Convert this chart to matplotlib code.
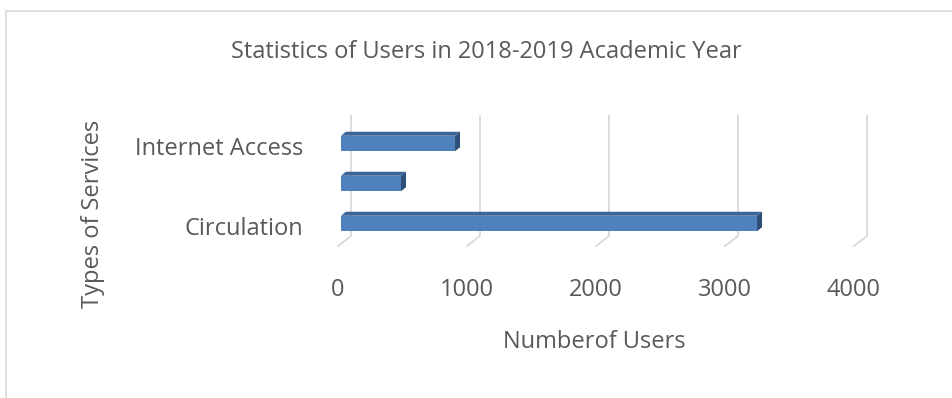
import matplotlib
matplotlib.use("Agg")
import matplotlib.pyplot as plt
from matplotlib.patches import Polygon
from matplotlib.lines import Line2D

plt.rcParams.update({
    "font.family": ["Open Sans", "DejaVu Sans"],
    "font.size": 17,
    "text.color": "#595959",
})

CATEGORIES = ["Circulation", "", "Internet Access"]
USERS = [3225, 465, 884]
XTICKS = [0, 1000, 2000, 3000, 4000]

TITLE = "Statistics of Users in 2018-2019 Academic Year"
XLABEL = "Numberof Users"
YLABEL = "Types of Services"

FRONT = "#4F81BD"
TOP = "#3B6499"
SIDE = "#2C4E78"
GRID = "#D9D9D9"
TEXT = "#595959"
FS = 17

W, H = 952, 398
# front plane of the plot area, in pixels (image coords, y down)
X0, X1 = 338, 854
Y_TOP, Y_BOT = 126, 246


def main():
    fig = plt.figure(figsize=(W / 100, H / 100), dpi=100)
    ax = fig.add_axes([X0 / W, 1 - Y_BOT / H, (X1 - X0) / W, (Y_BOT - Y_TOP) / H])
    ax.set_xlim(0, 4000)
    ax.set_ylim(-0.5, 2.5)
    for s in ax.spines.values():
        s.set_visible(False)

    # pixel -> data unit conversions
    px_x = 4000 / (X1 - X0)
    px_y = 3 / (Y_BOT - Y_TOP)

    # back wall gridlines + floor diagonals
    bx, by = 13 * px_x, 10 * px_y
    for v in XTICKS:
        ax.add_line(Line2D([v, v + bx, v + bx], [-0.5, -0.5 + by, 2.5 + by],
                           color=GRID, lw=1.3, clip_on=False, zorder=1))

    # 3D-ish bars
    fx, fy = 3 * px_x, 2.5 * px_y      # front face offset from front plane
    dx, dy = 5 * px_x, 4 * px_y        # bar depth
    hh = 7.75 * px_y                   # half height of front face
    for i, v in enumerate(USERS):
        x0, x1 = fx, v + fx
        yb, yt = i - hh + fy, i + hh + fy
        ax.add_patch(Polygon([(x0, yt), (x1, yt), (x1 + dx, yt + dy), (x0 + dx, yt + dy)],
                             closed=True, facecolor=TOP, edgecolor="none", zorder=3))
        ax.add_patch(Polygon([(x1, yb), (x1 + dx, yb + dy), (x1 + dx, yt + dy), (x1, yt)],
                             closed=True, facecolor=SIDE, edgecolor="none", zorder=3))
        ax.add_patch(Polygon([(x0, yb), (x1, yb), (x1, yt), (x0, yt)],
                             closed=True, facecolor=FRONT, edgecolor="none", zorder=4))

    ax.set_xticks(XTICKS)
    ax.set_xticklabels([str(t) for t in XTICKS])
    ax.set_yticks(range(len(CATEGORIES)))
    ax.set_yticklabels(CATEGORIES)
    ax.tick_params(axis="x", length=0, pad=23, labelcolor=TEXT, labelsize=FS)
    ax.tick_params(axis="y", length=0, pad=25, labelcolor=TEXT, labelsize=FS)

    fig.text(486 / W, 1 - 52 / H, TITLE, ha="center", va="center", fontsize=FS, color=TEXT)
    fig.text(594 / W, 1 - 342 / H, XLABEL, ha="center", va="center", fontsize=FS, color=TEXT)
    fig.text(93 / W, 1 - 214 / H, YLABEL, ha="center", va="center", rotation=90,
             fontsize=FS, color=TEXT)

    # chart area border (cropped on right/bottom)
    fig.add_artist(Line2D([6 / W, 6 / W, 1], [0, 1 - 11 / H, 1 - 11 / H],
                          transform=fig.transFigure, color=GRID, lw=1.2))

    fig.savefig("out.png", dpi=100, facecolor="white")
    plt.close(fig)


if __name__ == "__main__":
    main()
